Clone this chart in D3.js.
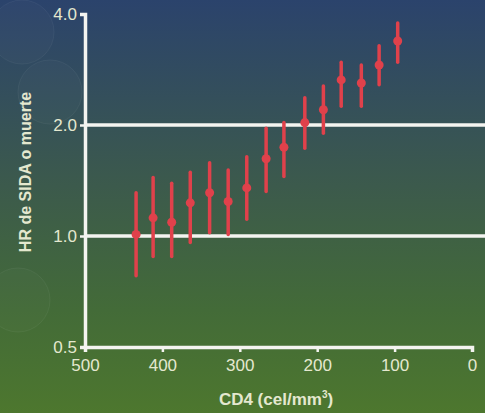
<!DOCTYPE html>
<html lang="es">
<head>
<meta charset="utf-8">
<title>HR de SIDA o muerte</title>
<script src="https://d3js.org/d3.v7.min.js"></script>
<style>
  body { margin: 0; background: #2f4a68; }
  svg { display: block; font-family: "Liberation Sans", Arial, sans-serif; }
</style>
</head>
<body>
<svg id="chart"></svg>
<script>
// CD4 bins (cel/mm3) and hazard ratios
const cd4 = [434, 412, 388, 364, 339, 315, 291, 266, 243, 216, 192, 169, 143, 120, 96];
const hr  = [1.01, 1.12, 1.09, 1.23, 1.31, 1.24, 1.35, 1.62, 1.74, 2.03, 2.20, 2.65, 2.60, 2.91, 3.38];
const hrLow  = [0.78, 0.88, 0.88, 0.96, 1.02, 1.01, 1.11, 1.32, 1.45, 1.73, 1.90, 2.25, 2.25, 2.57, 2.96];
const hrHigh = [1.31, 1.44, 1.39, 1.49, 1.58, 1.51, 1.64, 1.96, 2.03, 2.37, 2.55, 2.96, 2.91, 3.28, 3.78];
const yTicks = [0.5, 1.0, 2.0, 4.0];
const xTicks = [500, 400, 300, 200, 100, 0];
const refLines = [1.0, 2.0];

const width = 485, height = 413;
const svg = d3.select("#chart").attr("width", width).attr("height", height);

// background gradient: blue at top, green at bottom
const defs = svg.append("defs");
const grad = defs.append("linearGradient").attr("id", "bg")
    .attr("x1", 0).attr("y1", 0).attr("x2", 0).attr("y2", 1);
grad.append("stop").attr("offset", "0%").attr("stop-color", "#2b436c");
grad.append("stop").attr("offset", "45%").attr("stop-color", "#3c5a4c");
grad.append("stop").attr("offset", "75%").attr("stop-color", "#436b38");
grad.append("stop").attr("offset", "100%").attr("stop-color", "#4d772e");
svg.append("rect").attr("width", width).attr("height", height).attr("fill", "url(#bg)");

// faint decorative circles on the left
[[22, 32], [50, 92], [18, 300]].forEach(([cx, cy]) => {
    svg.append("circle").attr("cx", cx).attr("cy", cy).attr("r", 32)
        .attr("fill", "rgba(255,255,255,0.02)")
        .attr("stroke", "rgba(255,255,255,0.05)");
});

const x = d3.scaleLinear().domain([500, 0]).range([85, 472]);
const y = d3.scaleLog().base(2).domain([0.5, 4]).range([347, 14]);

const textColor = "#e4e8cf";

// reference lines
svg.selectAll(".ref").data(refLines).enter().append("line")
    .attr("x1", x(500)).attr("x2", width)
    .attr("y1", d => y(d)).attr("y2", d => y(d))
    .attr("stroke", "#f4f4f0").attr("stroke-width", 3.5);

// axes
const xAxis = svg.append("g").attr("transform", `translate(0,${y(0.5)})`)
    .call(d3.axisBottom(x).tickValues(xTicks).tickFormat(d3.format("d")).tickSize(5).tickSizeOuter(5));
const yAxis = svg.append("g").attr("transform", `translate(${x(500)},0)`)
    .call(d3.axisLeft(y).tickValues(yTicks).tickFormat(d3.format(".1f")).tickSize(5).tickSizeOuter(5));

[xAxis, yAxis].forEach(g => {
    g.select(".domain").attr("stroke", "#f4f4f0").attr("stroke-width", 3.5);
    g.selectAll(".tick line").attr("stroke", "#f4f4f0").attr("stroke-width", 2.5);
    g.selectAll(".tick text").attr("fill", textColor)
        .style("font-size", "17px").style("font-family", "Liberation Sans, Arial, sans-serif");
});
xAxis.selectAll(".tick text").attr("y", 12).attr("dy", "0.71em");
yAxis.selectAll(".tick text").attr("x", -8);

// axis titles
svg.append("text").attr("x", 276).attr("y", 405).attr("text-anchor", "middle")
    .attr("fill", textColor).style("font-size", "17px").style("font-weight", "bold")
    .html("CD4 (cel/mm<tspan dy='-7' font-size='10'>3</tspan><tspan dy='7'>)</tspan>");

svg.append("text").attr("transform", "translate(31,172) rotate(-90)")
    .attr("text-anchor", "middle").attr("fill", textColor)
    .style("font-size", "16px").style("font-weight", "bold")
    .text("HR de SIDA o muerte");

// error bars and points
const red = "#e0414b";
const pts = cd4.map((c, i) => ({ c, hr: hr[i], lo: hrLow[i], hi: hrHigh[i] }));

svg.selectAll(".err").data(pts).enter().append("line")
    .attr("x1", d => x(d.c)).attr("x2", d => x(d.c))
    .attr("y1", d => y(d.lo)).attr("y2", d => y(d.hi))
    .attr("stroke", red).attr("stroke-width", 3.5).attr("stroke-linecap", "round");

svg.selectAll(".pt").data(pts).enter().append("circle")
    .attr("cx", d => x(d.c)).attr("cy", d => y(d.hr)).attr("r", 4.5)
    .attr("fill", red);
</script>
</body>
</html>
